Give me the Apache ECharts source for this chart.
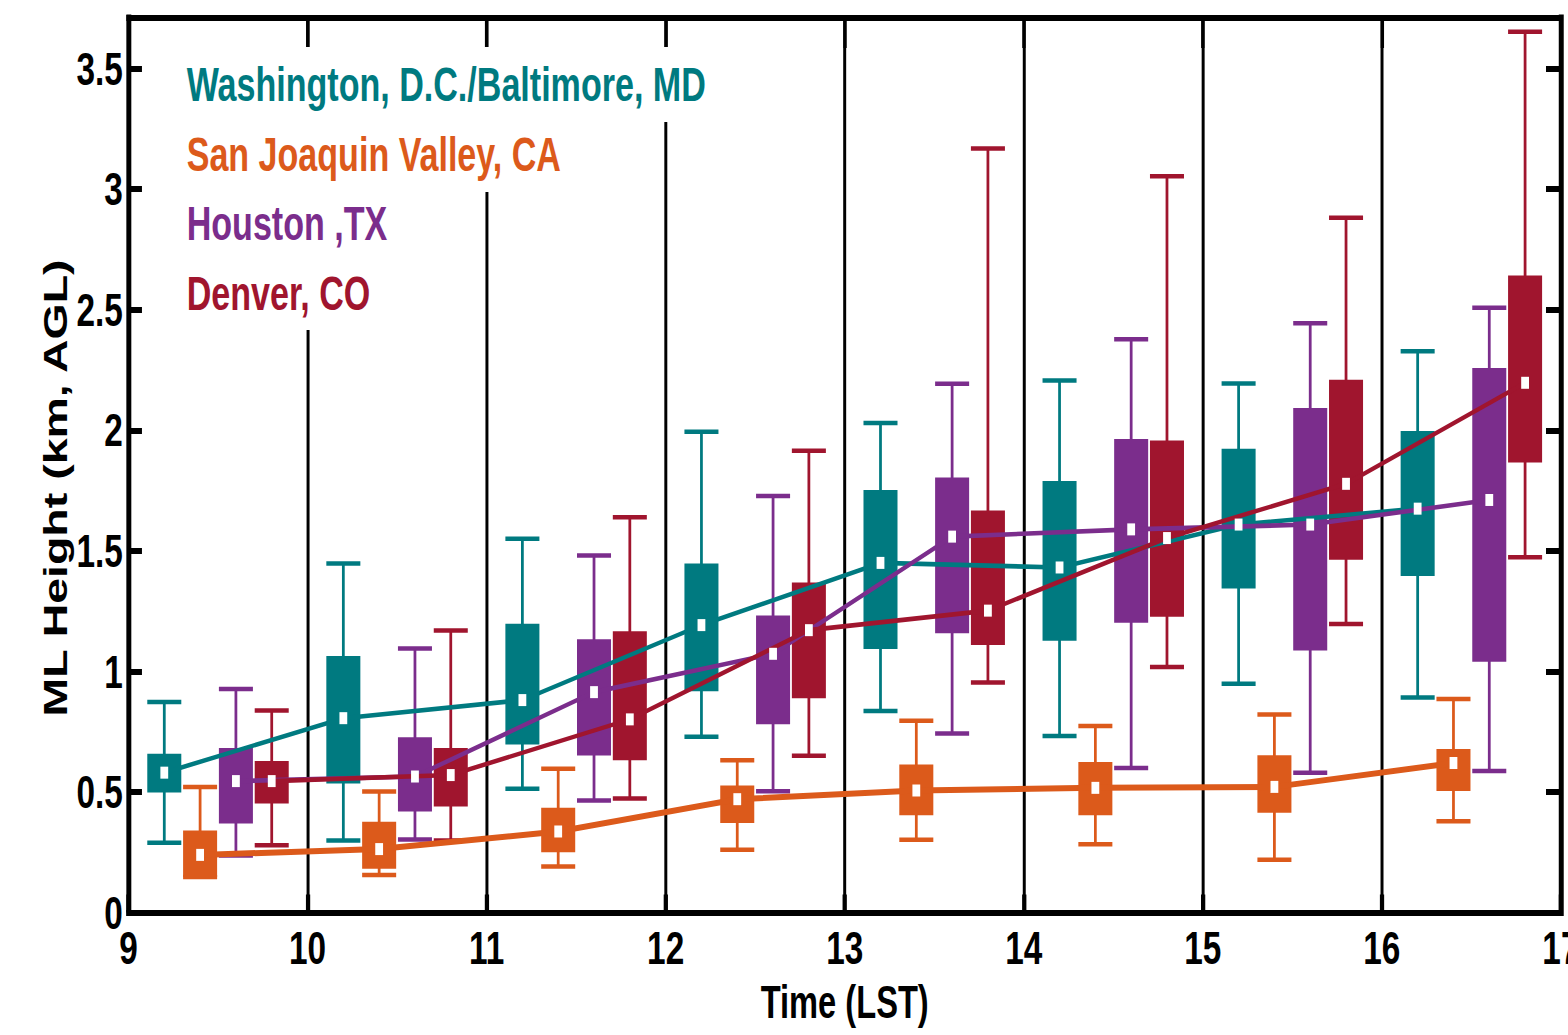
<!DOCTYPE html>
<html><head><meta charset="utf-8">
<script src="https://cdn.jsdelivr.net/npm/echarts@6.0.0/dist/echarts.min.js"></script>
<style>
html,body{margin:0;padding:0;background:#fff;overflow:hidden;width:1568px;height:1035px}
#wrap{width:1568px;height:1035px;overflow:hidden;position:relative;background:#fff}
#chart{position:absolute;left:0;top:0;width:2209px;height:1035px;transform-origin:0 0;transform:scaleX(0.70982)}
</style></head><body>
<div id="wrap"><div id="chart"></div></div>
<script>
// ---------------- data ----------------
const cityNames = ['Washington, D.C./Baltimore, MD', 'San Joaquin Valley, CA', 'Houston ,TX', 'Denver, CO'];
const cityColors = ['#007A80', '#DC5A1B', '#7B2D8C', '#A0152E'];
const xTicks = [9, 10, 11, 12, 13, 14, 15, 16, 17];
const yTicks = [0, 0.5, 1, 1.5, 2, 2.5, 3, 3.5];
const yTickLabels = ['0', '0.5', '1', '1.5', '2', '2.5', '3', '3.5'];

// each stat row: [whisker low, Q1, median, Q3, whisker high]  (km AGL)
const washTimes = [9.2, 10.2, 11.2, 12.2, 13.2, 14.2, 15.2, 16.2];
const washStats = [
  [0.289, 0.498, 0.580, 0.658, 0.873],
  [0.299, 0.535, 0.806, 1.064, 1.447],
  [0.513, 0.697, 0.881, 1.198, 1.550],
  [0.729, 0.918, 1.192, 1.448, 1.994],
  [0.836, 1.093, 1.450, 1.752, 2.030],
  [0.732, 1.127, 1.431, 1.790, 2.207],
  [0.949, 1.344, 1.609, 1.923, 2.194],
  [0.892, 1.396, 1.675, 1.997, 2.328]
];
const sjvTimes = [9.4, 10.4, 11.4, 12.4, 13.4, 14.4, 15.4, 16.4];
const sjvStats = [
  [0.147, 0.147, 0.239, 0.340, 0.521],
  [0.156, 0.181, 0.263, 0.376, 0.502],
  [0.191, 0.250, 0.336, 0.434, 0.596],
  [0.260, 0.371, 0.470, 0.527, 0.631],
  [0.302, 0.403, 0.506, 0.614, 0.795],
  [0.283, 0.403, 0.517, 0.624, 0.774],
  [0.219, 0.414, 0.521, 0.652, 0.821],
  [0.378, 0.504, 0.620, 0.678, 0.885]
];
const houTimes = [9.6, 10.6, 11.6, 12.6, 13.6, 14.6, 15.6, 16.6];
const houStats = [
  [0.236, 0.369, 0.545, 0.682, 0.927],
  [0.303, 0.419, 0.564, 0.727, 1.095],
  [0.465, 0.651, 0.914, 1.133, 1.481],
  [0.503, 0.781, 1.073, 1.232, 1.727],
  [0.742, 1.158, 1.559, 1.804, 2.193],
  [0.599, 1.202, 1.589, 1.964, 2.378],
  [0.580, 1.087, 1.609, 2.092, 2.444],
  [0.587, 1.040, 1.711, 2.258, 2.508]
];
const denTimes = [9.8, 10.8, 11.8, 12.8, 13.8, 14.8, 15.8, 16.8];
const denStats = [
  [0.279, 0.452, 0.545, 0.628, 0.838],
  [0.299, 0.440, 0.570, 0.682, 1.170],
  [0.473, 0.631, 0.801, 1.167, 1.639],
  [0.650, 0.889, 1.171, 1.369, 1.915],
  [0.954, 1.109, 1.252, 1.667, 3.169],
  [1.018, 1.227, 1.553, 1.958, 3.054],
  [1.197, 1.463, 1.778, 2.210, 2.882],
  [1.473, 1.866, 2.197, 2.642, 3.653]
];

// ---------------- layout / style ----------------
const FONT = '"Liberation Sans", Arial, Helvetica, sans-serif';
const BOX_W = 0.19;        // box width in hours
const allTimes = [washTimes, sjvTimes, houTimes, denTimes];
const allStats = [washStats, sjvStats, houStats, denStats];
const lineWidths = [4.6, 6, 4.6, 4.6];

function renderBox(params, api) {
  const x = api.value(0);
  const lo = api.coord([x, api.value(1)]);
  const q1 = api.coord([x, api.value(2)]);
  const q3 = api.coord([x, api.value(4)]);
  const hi = api.coord([x, api.value(5)]);
  const w = api.size([BOX_W, 0])[0];
  const c = api.visual('color');
  return {
    type: 'group',
    children: [
      { type: 'line', shape: { x1: lo[0], y1: lo[1], x2: hi[0], y2: hi[1] }, style: { stroke: c, lineWidth: 3.9 } },
      { type: 'line', shape: { x1: hi[0] - w / 2, y1: hi[1], x2: hi[0] + w / 2, y2: hi[1] }, style: { stroke: c, lineWidth: 4.5 } },
      { type: 'line', shape: { x1: lo[0] - w / 2, y1: lo[1], x2: lo[0] + w / 2, y2: lo[1] }, style: { stroke: c, lineWidth: 4.5 } },
      { type: 'rect', shape: { x: q3[0] - w / 2, y: q3[1], width: w, height: q1[1] - q3[1] }, style: { fill: c } }
    ]
  };
}

const series = [];
cityNames.forEach((name, k) => {
  series.push({
    type: 'custom', name: name, z: 2, silent: true,
    renderItem: renderBox,
    itemStyle: { color: cityColors[k] },
    encode: { x: 0, y: [1, 2, 3, 4, 5] },
    data: allTimes[k].map((t, i) => [t].concat(allStats[k][i]))
  });
});
cityNames.forEach((name, k) => {
  series.push({
    type: 'line', name: name, z: 3, silent: true,
    showSymbol: false, symbol: 'none',
    lineStyle: { color: cityColors[k], width: lineWidths[k] },
    data: allTimes[k].map((t, i) => [t, allStats[k][i][2]])
  });
});
cityNames.forEach((name, k) => {
  series.push({
    type: 'scatter', name: name, z: 4, silent: true,
    symbol: 'rect', symbolSize: [11, 12],
    itemStyle: { color: '#ffffff', opacity: 1 },
    data: allTimes[k].map((t, i) => [t, allStats[k][i][2]])
  });
});

// legend rows (white backgrounds hide the hour grid lines, as in the original)
const legendRowsTop = [47, 122, 192, 261];
const legendRowsH = [75, 70, 69, 69];
const legendRowsW = [789, 592, 352, 352];
const legendTextY = [84, 154, 223, 293];
const graphic = [];
cityNames.forEach((name, k) => {
  graphic.push({ type: 'rect', z: 100, silent: true, shape: { x: 240, y: legendRowsTop[k], width: legendRowsW[k], height: legendRowsH[k] }, style: { fill: '#ffffff' } });
  graphic.push({ type: 'text', z: 101, silent: true, x: 263, y: legendTextY[k],
    style: { text: name, font: 'bold 48px ' + FONT, fill: cityColors[k], textAlign: 'left', align: 'left', textVerticalAlign: 'middle', verticalAlign: 'middle' } });
});
graphic.push({ type: 'text', z: 101, silent: true, x: 78, y: 488, rotation: Math.PI / 2, scaleY: 1.0,
  style: { text: 'ML Height (km, AGL)', font: 'bold 46.5px ' + FONT, fill: '#000', textAlign: 'center', align: 'center', textVerticalAlign: 'middle', verticalAlign: 'middle' } });

const axisFont = { color: '#000', fontFamily: FONT, fontWeight: 'bold', fontSize: 47 };

const option = {
  animation: false,
  backgroundColor: '#ffffff',
  grid: { left: 181, right: 10, top: 18, bottom: 122.5, containLabel: false, outerBoundsMode: 'none' },
  xAxis: [
    {
      type: 'value', position: 'bottom', min: 9, max: 17, interval: 1,
      axisLine: { show: true, onZero: false, lineStyle: { color: '#000', width: 6, cap: 'square' } },
      axisTick: { show: true, inside: true, length: 18, lineStyle: { color: '#000', width: 6 }, customValues: xTicks },
      axisLabel: Object.assign({ show: true, margin: 12, customValues: xTicks, formatter: v => String(v) }, axisFont),
      splitLine: { show: true, lineStyle: { color: '#000', width: 4.2 } },
      name: 'Time (LST)', nameLocation: 'middle', nameGap: 66, nameMoveOverlap: false,
      nameTextStyle: Object.assign({}, axisFont, { fontSize: 46 })
    },
    {
      type: 'value', position: 'top', min: 9, max: 17, interval: 1,
      axisLine: { show: true, onZero: false, lineStyle: { color: '#000', width: 6, cap: 'square' } },
      axisTick: { show: true, inside: true, length: 30, lineStyle: { color: '#000', width: 4.7 } },
      axisLabel: { show: false }, splitLine: { show: false }
    }
  ],
  yAxis: [
    {
      type: 'value', position: 'left', min: 0, max: 3.71, interval: 0.5,
      axisLine: { show: true, onZero: false, lineStyle: { color: '#000', width: 7, cap: 'square' } },
      axisTick: { show: true, inside: true, length: 19, lineStyle: { color: '#000', width: 6 }, customValues: yTicks },
      axisLabel: Object.assign({
        show: true, margin: 8, customValues: yTicks,
        formatter: v => { const i = yTicks.findIndex(t => Math.abs(t - v) < 1e-6); return i >= 0 ? yTickLabels[i] : ''; }
      }, axisFont),
      splitLine: { show: false }
    },
    {
      type: 'value', position: 'right', min: 0, max: 3.71, interval: 0.5,
      axisLine: { show: true, onZero: false, lineStyle: { color: '#000', width: 7, cap: 'square' } },
      axisTick: { show: true, inside: true, length: 21, lineStyle: { color: '#000', width: 6 }, customValues: yTicks },
      axisLabel: { show: false }, splitLine: { show: false }
    }
  ],
  graphic: graphic,
  series: series
};

const chart = echarts.init(document.getElementById('chart'), null, { renderer: 'svg' });
chart.setOption(option);
</script>
</body></html>
